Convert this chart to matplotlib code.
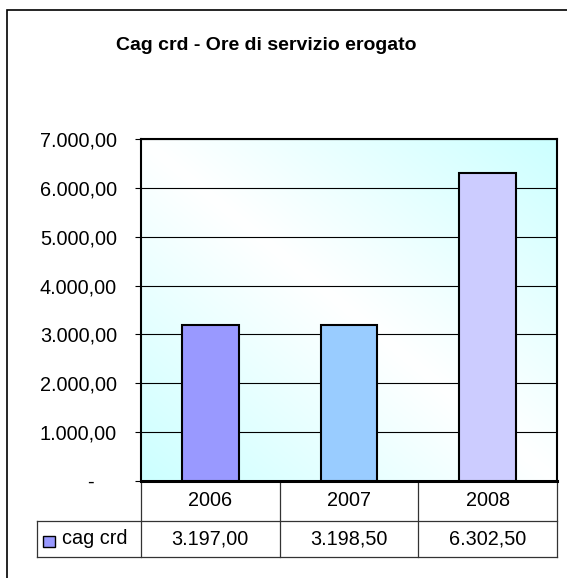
import numpy as np
import matplotlib.pyplot as plt
from matplotlib.patches import Rectangle

# dati
anni = ['2006', '2007', '2008']
ore = [3197.00, 3198.50, 6302.50]
serie = 'cag crd'
colori = ['#9999FF', '#99CCFF', '#CCCCFF']
titolo = 'Cag crd - Ore di servizio erogato'
ymax = 7000
passo = 1000


def fmt_it(v, pos=None):
    # formato italiano: 7.000,00 ; lo zero come "-" (stile contabilità)
    if v == 0:
        return '-\u2007\u2007'
    s = f'{v:,.2f}'
    return s.replace(',', 'X').replace('.', ',').replace('X', '.')


plt.rcParams['font.family'] = ['Liberation Sans', 'DejaVu Sans']

W, H = 567, 578
fig = plt.figure(figsize=(W / 100, H / 100), dpi=100)

# cornice esterna del grafico (esce a destra e in basso)
fig.patches.append(Rectangle((7 / W, -0.1), 1.0, 1.1 - 10 / H,
                             transform=fig.transFigure, fill=False,
                             ec='black', lw=1.2))

fig.text(266 / W, 1 - 46 / H, titolo, ha='center', va='center',
         fontsize=14, fontweight='bold')

ax = fig.add_axes([141 / W, (H - 481) / H, 416 / W, 342 / H])

# sfondo sfumato in diagonale
u, v = np.meshgrid(np.linspace(0, 1, 300), np.linspace(0, 1, 300))
t = np.abs(u + v - 1)[..., None]
ciano = np.array([0.80, 1.0, 1.0])
bianco = np.ones(3)
img = bianco + (ciano - bianco) * t
ax.imshow(img, extent=[-0.5, len(anni) - 0.5, 0, ymax], origin='lower',
          aspect='auto', zorder=0)

x = np.arange(len(anni))
ax.bar(x, ore, width=0.41, color=colori, edgecolor='black', lw=1.5, zorder=3)

ax.set_xlim(-0.5, len(anni) - 0.5)
ax.set_ylim(0, ymax)
ax.set_yticks(np.arange(0, ymax + 1, passo))
ax.yaxis.set_major_formatter(fmt_it)
ax.set_xticks([])
ax.yaxis.grid(True, color='black', lw=0.8)
ax.set_axisbelow(True)
ax.tick_params(axis='y', direction='out', length=4.3, width=0.8,
               labelsize=14.3, pad=13)
for s in ax.spines.values():
    s.set_linewidth(1.5)
ax.spines['bottom'].set_linewidth(2.2)

# tabella dati sotto il grafico
r1 = -40 / 342
r2 = -76 / 342
sx = (37 - 141) / 416
kw = dict(transform=ax.transAxes, color='#333333', lw=0.9, clip_on=False)
ax.plot([sx, 1], [r1, r1], **kw)
ax.plot([sx, 1], [r2, r2], **kw)
ax.plot([sx, sx], [r1, r2], **kw)
for i in range(len(anni) + 1):
    xf = i / len(anni)
    ax.plot([xf, xf], [0, r2], **kw)

tr = ax.get_xaxis_transform()
for i, (a, val) in enumerate(zip(anni, ore)):
    ax.text(i, r1 / 2, a, transform=tr, ha='center', va='center',
            fontsize=14.3)
    ax.text(i, (r1 + r2) / 2, fmt_it(val), transform=tr, ha='center',
            va='center', fontsize=14.3)

ax.add_patch(Rectangle(((43 - 141) / 416, (481 - 547) / 342), 12 / 416,
                       11 / 342, transform=ax.transAxes, fc=colori[0],
                       ec='black', lw=1, clip_on=False))
ax.text((62 - 141) / 416, (r1 + r2) / 2, serie, transform=ax.transAxes,
        ha='left', va='center', fontsize=14.3)

fig.savefig('out.png', dpi=100)
